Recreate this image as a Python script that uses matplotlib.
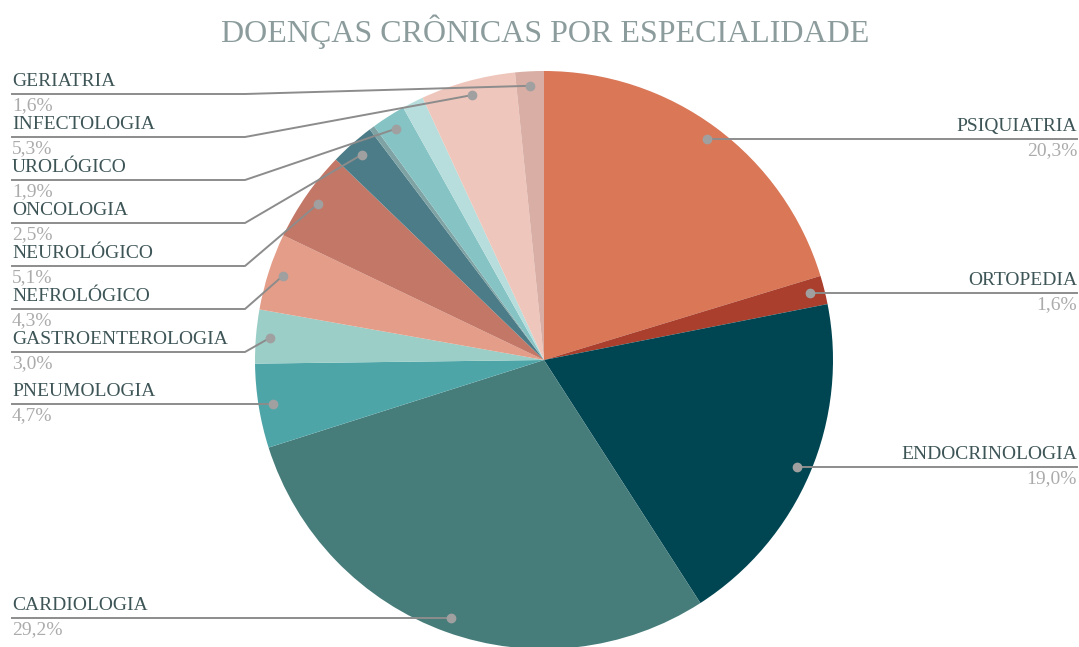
import numpy as np
import matplotlib.pyplot as plt

W, H = 1079, 647

especialidades = ['PSIQUIATRIA', 'ORTOPEDIA', 'ENDOCRINOLOGIA', 'CARDIOLOGIA',
                  'PNEUMOLOGIA', 'GASTROENTEROLOGIA', 'NEFROLÓGICO', 'NEUROLÓGICO',
                  'ONCOLOGIA', None, 'UROLÓGICO', None, 'INFECTOLOGIA', 'GERIATRIA']
percentuais = [20.3, 1.6, 19.0, 29.2, 4.7, 3.0, 4.3, 5.1, 2.5, 0.3, 1.9, 1.2, 5.3, 1.6]
cores = ['#D97757', '#A93F2C', '#004652', '#467D7B', '#4EA5A8', '#9BCEC7', '#E39D88',
         '#C37766', '#4B7C87', '#7FA3A4', '#86C3C4', '#B7DEDC', '#EEC6BB', '#D9AEA4']
lado_direito = ['PSIQUIATRIA', 'ORTOPEDIA', 'ENDOCRINOLOGIA']
# altura (pixels da imagem) das linhas dos rótulos da esquerda
linha_esq = {'GERIATRIA': 94, 'INFECTOLOGIA': 137, 'UROLÓGICO': 180, 'ONCOLOGIA': 223,
             'NEUROLÓGICO': 266, 'NEFROLÓGICO': 309, 'GASTROENTEROLOGIA': 352}

plt.rcParams['font.family'] = ['Liberation Serif', 'DejaVu Serif']
cor_rotulo = '#3E5557'
cor_pct = '#ABABAB'
cor_linha = '#8C8C8C'

fig = plt.figure(figsize=(W / 100, H / 100), dpi=100)
ax = fig.add_axes([0, 0, 1, 1])
cx, cy, r = 544, H - 360, 289
wedges, _ = ax.pie(percentuais, colors=cores, startangle=90, counterclock=False,
                   center=(cx, cy), radius=r, wedgeprops=dict(linewidth=0))
ax.set_xlim(0, W)
ax.set_ylim(0, H)
ax.set_aspect('equal')
ax.axis('off')

for w, nome, v in zip(wedges, especialidades, percentuais):
    if nome is None:
        continue
    m = np.deg2rad((w.theta1 + w.theta2) / 2)
    dx, dy = cx + 0.95 * r * np.cos(m), cy + 0.95 * r * np.sin(m)
    pct = f'{v:.1f}%'.replace('.', ',')
    if nome in lado_direito:
        ax.plot([dx, 1077], [dy, dy], color=cor_linha, lw=1.4, zorder=3)
        ax.text(1077, dy + 4, nome, ha='right', va='bottom', fontsize=14, color=cor_rotulo)
        ax.text(1077, dy - 3, pct, ha='right', va='top', fontsize=14, color=cor_pct)
    else:
        ly = H - linha_esq[nome] if nome in linha_esq else dy
        ax.plot([12, 245, dx], [ly, ly, dy], color=cor_linha, lw=1.4, zorder=3)
        ax.text(12, ly + 4, nome, ha='left', va='bottom', fontsize=14, color=cor_rotulo)
        ax.text(12, ly - 3, pct, ha='left', va='top', fontsize=14, color=cor_pct)
    ax.plot(dx, dy, 'o', ms=6, color='#A0A0A0', zorder=4)

fig.text(545 / W, 1 - 32 / H, 'DOENÇAS CRÔNICAS POR ESPECIALIDADE', ha='center', va='center',
         fontsize=23, color='#8C9C9C')

fig.savefig('out.png', dpi=100)
